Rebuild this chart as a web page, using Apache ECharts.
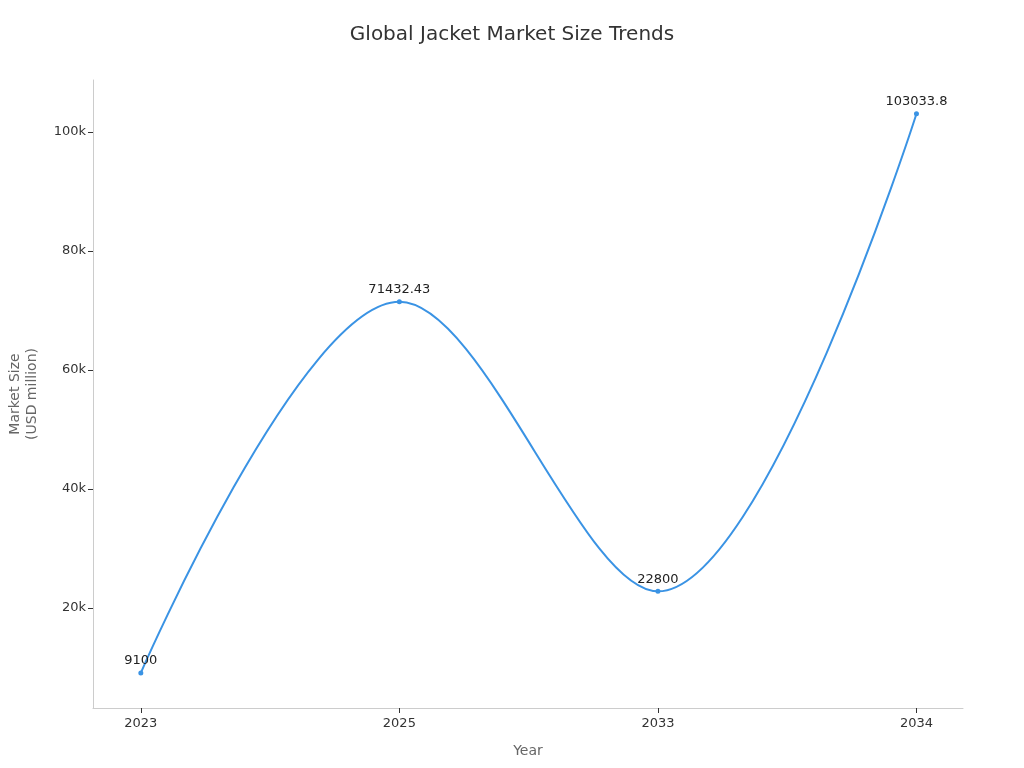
<!DOCTYPE html>
<html>
<head>
<meta charset="utf-8">
<script src="https://cdn.jsdelivr.net/npm/echarts@6/dist/echarts.min.js"></script>
<style>
  html, body { margin: 0; padding: 0; background: #fff; }
  #chart { width: 1024px; height: 768px; }
</style>
</head>
<body>
<div id="chart"></div>
<script>
var years = ['2023', '2025', '2033', '2034'];
var marketSize = [9100, 71432.43, 22800, 103033.8];
var yTicks = [20000, 40000, 60000, 80000, 100000];

var chart = echarts.init(document.getElementById('chart'));

var points = marketSize.map(function (v, i) { return [i, v]; });

var option = {
  backgroundColor: '#ffffff',
  textStyle: { fontFamily: 'DejaVu Sans' },
  title: {
    text: 'Global Jacket Market Size Trends',
    left: 'center',
    top: 20,
    textStyle: { fontSize: 20, fontWeight: 'normal', color: '#333', fontFamily: 'DejaVu Sans' }
  },
  grid: { left: 93, right: 61, top: 80, bottom: 60, containLabel: false, outerBoundsMode: 'none' },
  xAxis: {
    type: 'value',
    min: -0.185,
    max: 3.18,
    name: 'Year',
    nameLocation: 'middle',
    nameGap: 36,
    nameTextStyle: { fontSize: 14, color: '#666' },
    axisLine: { show: true, onZero: false, lineStyle: { color: '#ccc' } },
    axisTick: { show: true, lineStyle: { color: '#333' }, length: 5,
      customValues: [0, 1, 2, 3] },
    axisLabel: { color: '#333', fontSize: 13, margin: 9,
      customValues: [0, 1, 2, 3],
      formatter: function (v) { return years[Math.round(v)]; } },
    splitLine: { show: false }
  },
  yAxis: {
    type: 'value',
    min: 3200,
    max: 108700,
    name: 'Market Size\n(USD million)',
    nameLocation: 'middle',
    nameGap: 52,
    nameTextStyle: { fontSize: 14, color: '#666', lineHeight: 17 },
    axisLine: { show: true, onZero: false, lineStyle: { color: '#ccc' } },
    axisTick: { show: true, lineStyle: { color: '#333' }, length: 5, customValues: yTicks },
    axisLabel: { color: '#333', fontSize: 13, margin: 7, customValues: yTicks,
      formatter: function (v) { return (v / 1000) + 'k'; } },
    splitLine: { show: false }
  },
  series: [{
    type: 'line',
    data: points,
    smooth: 0.35,
    symbol: 'circle',
    symbolSize: 5,
    lineStyle: { color: '#3a93e4', width: 2 },
    itemStyle: { color: '#3a93e4' },
    label: {
      show: true,
      position: 'top',
      distance: 3,
      color: '#222',
      fontSize: 13,
      formatter: function (p) { return String(p.value[1]); }
    }
  }]
};

chart.setOption(option);
</script>
</body>
</html>
